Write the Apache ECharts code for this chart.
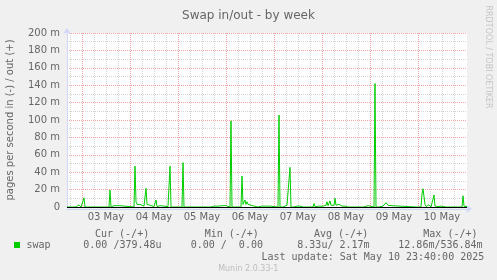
<!DOCTYPE html>
<html><head><meta charset="utf-8">
<script src="https://cdn.jsdelivr.net/npm/echarts@6/dist/echarts.min.js"></script>
<style>html,body{margin:0;padding:0;background:#f0f0f0}#c{width:497px;height:280px}</style>
</head><body><div id="c"></div>
<script>
const titleText = 'Swap in/out - by week';
const yAxisName = 'pages per second in (-) / out (+)';
const watermarkRight = 'RRDTOOL / TOBI OETIKER';
const versionText = 'Munin 2.0.33-1';
// hours since 02 May 00:00
const dayLabels = ['03 May','04 May','05 May','06 May','07 May','08 May','09 May','10 May'];
const labelHours = [36,60,84,108,132,156,180,204];
const dayBoundaryHours = [24,48,72,96,120,144,168,192];
const sixHourHours = [18,30,36,42,54,60,66,78,84,90,102,108,114,126,132,138,150,156,162,174,180,186,198,204,210];
const yTicks = [0,20,40,60,80,100,120,140,160,180,200];
// swap out, milli-pages per second
const sampleHours = [16.5,21,21.5,22,22.5,23,23.5,24.5,25,25.5,37.5,38,38.5,39.5,40,40.5,41,41.5,42,42.5,43,43.5,
 50,50.5,51,51.5,52,52.5,53,53.5,54,55,55.5,56,56.5,57,57.5,58,58.5,59,60,60.5,61,61.5,62,63,64,65,66,67,
 67.5,68,68.5,74,74.5,75,82,82.5,83,83.5,88.5,89,90,91,92,93,94,95,96,96.5,98,98.5,99,
 103.5,104,104.5,105,105.5,106,106.5,107,107.5,108,108.5,109,112,112.5,114,116,118,118.5,
 122,122.5,123,124.5,125,125.5,126.5,127,127.5,128,128.5,130,130.5,131,131.5,132,133,134,134.5,
 139.5,140,140.5,141,143,144,144.5,145,145.5,146,146.5,147,147.5,148,148.5,149,149.5,150,150.5,151,152,152.5,153,153.5,154,155,155.5,156,157,
 159,159.5,160,165,165.5,166,167,167.5,170,170.5,171,172.5,173,173.5,174.5,175,175.5,176,176.5,177,177.5,178,179,179.5,
 191,191.5,192,193.5,194,194.5,195,195.5,196,197,197.5,198,198.5,199.5,200,200.5,201,201.5,202,203,203.5,204,204.5,
 206,206.5,207,208.5,209,209.5,214,214.5,215,216,216.5];
const swapOut = [0,0,1,1.5,2.5,0.5,0,0,10.5,0,0,19.5,0,0,1.5,1.5,1,1.5,2,1,1.5,0,
 0,47,6,3,5,2,3,1,1,1,0.5,21.5,3,2,5,2,1,1.5,0.5,2,8,0.5,1,1.5,0.5,1,1,0.5,
 0,47,0,0,51,0,0,1.5,1.5,0,0,1.5,1,1.5,1,1,1.5,1,1.5,0,0,99,0,
 0,35.6,3,1,8,3,6,3,5,1,2,0,0,1,1,1,1,0,
 0,105.7,0,0,2,0.5,2,0,0,45.6,0,0,1.5,2,1,1.5,1,1.5,0,
 0,4,0.5,1,1,0.5,1,3,1,2,6,1.5,2,7,2,1.5,3,2,10,2,1.5,3,1,2,1,3,1,1.5,0,
 0,1,0,0,1.5,1,1.5,0,0,142,0,0,1,1,1,0.5,2,5,3,2,1.5,1.5,1.5,0,
 0,1,0,0,15,21,23,3,0.5,1,2.5,1.5,0,0,13.8,1,0.5,1.5,0.5,2.5,1,1,0,
 0,1,0,0,1,0,0,13,1,0.5,0.4];
const seriesName = 'swap';
const statHeaders = ['Cur (-/+)','Min (-/+)','Avg (-/+)','Max (-/+)'];
const statValues = ['0.00 /379.48u','0.00 /  0.00','8.33u/ 2.17m','12.86m/536.84m'];
const lastUpdate = 'Last update: Sat May 10 23:40:00 2025';

const FONT = '#666666', AXIS = '#CFD6F8', GREEN = '#00CC00';
const RED = '#f4a4a4', GRAY = '#d4d4d4';
const mono = '"DejaVu Sans Mono", monospace';
const sans = '"DejaVu Sans", sans-serif';

const chart = echarts.init(document.getElementById('c'), null, {renderer: 'canvas'});

function txt(text, x, y, opts) {
  opts = opts || {};
  return {
    type: 'text', x: x, y: y, rotation: opts.rotation || 0, silent: true, z: 10,
    style: {
      text: text, fill: opts.fill || FONT,
      font: (opts.size || 10) + 'px ' + (opts.family || mono),
      textAlign: opts.align || 'left', textVerticalAlign: 'middle',
      align: opts.align || 'left', verticalAlign: 'middle'
    }
  };
}
const statX = [95, 204.7, 314, 423.3];
const valX = [83.3, 190.7, 297.3, 398.3];
const graphics = [
  txt(yAxisName, 10.5, 120, {family: sans, align: 'center', rotation: Math.PI / 2}),
  txt(watermarkRight, 488, 57, {family: sans, size: 8, align: 'center', fill: '#c4c4c4', rotation: -Math.PI / 2}),
  txt(versionText, 248.3, 269.3, {family: sans, size: 8, align: 'center', fill: '#bdbdbd'}),
  {type: 'rect', shape: {x: 14, y: 242, width: 6, height: 6}, style: {fill: GREEN}, silent: true},
  txt(seriesName, 26.5, 245.7),
  txt(lastUpdate, 261.5, 257.7)
];
statHeaders.forEach((h, i) => graphics.push(txt(h, statX[i], 234)));
statValues.forEach((v, i) => graphics.push(txt(v, valX[i], 245.7)));

chart.setOption({
  animation: false,
  backgroundColor: '#f0f0f0',
  title: {
    text: titleText, left: 'center', top: 5,
    textStyle: {fontFamily: sans, fontSize: 12, fontWeight: 'normal', color: FONT}
  },
  grid: {left: 67, right: 30, top: 33, bottom: 73, show: true, backgroundColor: '#ffffff', borderWidth: 0},
  xAxis: [{
    type: 'value', min: 16.5, max: 216.5, position: 'bottom', offset: 2,
    axisLine: {show: true, onZero: false, lineStyle: {color: AXIS, width: 1}, symbol: ['none', 'arrow'], symbolSize: [6, 6], symbolOffset: [0, 5]},
    axisTick: {show: false, customValues: dayBoundaryHours},
    axisLabel: {
      customValues: labelHours, margin: 3, color: FONT, fontFamily: sans, fontSize: 10,
      formatter: v => dayLabels[labelHours.indexOf(v)] || ''
    },
    splitLine: {show: true, lineStyle: {color: RED, width: 1, type: [1, 1]}}
  }, {
    type: 'value', min: 16.5, max: 216.5, position: 'top',
    axisLine: {show: false}, axisLabel: {show: false},
    axisTick: {show: false, customValues: sixHourHours},
    splitLine: {show: true, lineStyle: {color: GRAY, width: 1, type: [1, 1]}}
  }],
  yAxis: {
    type: 'value', min: 0, max: 200, interval: 20,
    axisLine: {show: true, lineStyle: {color: AXIS, width: 1}, symbol: ['none', 'arrow'], symbolSize: [6, 6], symbolOffset: [0, 5]},
    axisTick: {show: false},
    axisLabel: {margin: 7, color: FONT, fontFamily: sans, fontSize: 10, formatter: v => v === 0 ? '0' : v + ' m'},
    splitLine: {show: true, lineStyle: {color: RED, width: 1, type: [1, 1]}},
    minorTick: {show: false, splitNumber: 2},
    minorSplitLine: {show: true, lineStyle: {color: GRAY, width: 1, type: [1, 1]}}
  },
  graphic: graphics,
  series: [{
    name: seriesName, type: 'line', xAxisIndex: 0, yAxisIndex: 0,
    data: sampleHours.map((h, i) => [h, swapOut[i]]),
    showSymbol: false, symbol: 'none', clip: true,
    lineStyle: {color: GREEN, width: 1}, itemStyle: {color: GREEN},
    z: 3,
    markLine: {
      silent: true, symbol: 'none', label: {show: false},
      lineStyle: {color: '#000000', width: 1, type: 'solid'},
      data: [{yAxis: 0}]
    }
  }]
});
</script></body></html>
